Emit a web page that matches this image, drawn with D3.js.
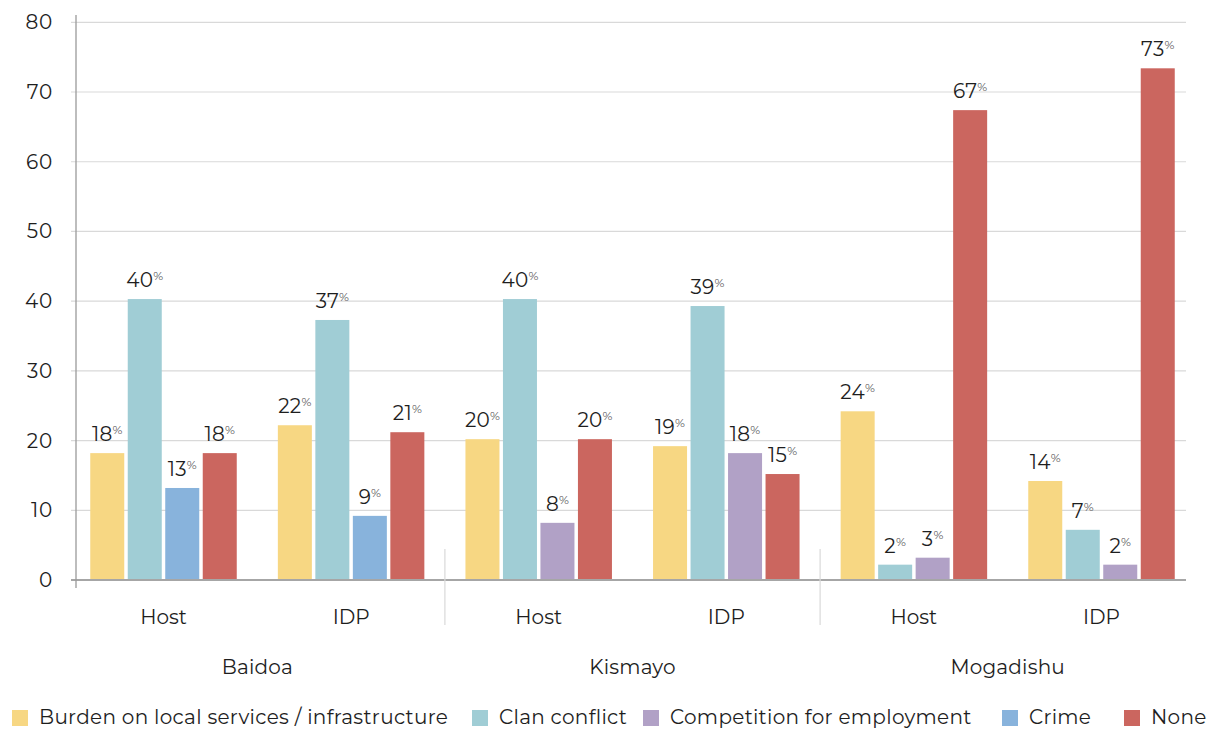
<!DOCTYPE html>
<html>
<head>
<meta charset="utf-8">
<script src="https://cdn.jsdelivr.net/npm/d3@7/dist/d3.min.js"></script>
<style>
  html, body { margin: 0; padding: 0; background: #fff; }
  svg { display: block; font-family: "Montserrat", "Inter", "Noto Sans", sans-serif; }
</style>
</head>
<body>
<svg id="chart" width="1214" height="729"></svg>
<script>
// ---- data ----
const cities = ["Baidoa", "Kismayo", "Mogadishu"];
const groups = ["Host", "IDP"];
const seriesNames = ["Burden on local services / infrastructure", "Clan conflict", "Competition for employment", "Crime", "None"];
const seriesColors = ["#F7D783", "#A0CDD5", "#B1A1C6", "#88B3DC", "#CB665F"];
// order of subgroups: Baidoa Host, Baidoa IDP, Kismayo Host, Kismayo IDP, Mogadishu Host, Mogadishu IDP
const burden      = [18.2, 22.2, 20.2, 19.2, 24.2, 14.2];
const clan        = [40.3, 37.3, 40.3, 39.3, 2.2, 7.2];
const competition = [null, null, 8.2, 18.2, 3.2, 2.2];
const crime       = [13.2, 9.2, null, null, null, null];
const none        = [18.2, 21.2, 20.2, 15.2, 67.4, 73.4];
const yTicks = [0, 10, 20, 30, 40, 50, 60, 70, 80];

// ---- build ----
const seriesValues = [burden, clan, competition, crime, none];
const subgroups = [];
cities.forEach(c => groups.forEach(g => subgroups.push({ city: c, group: g, key: c + "|" + g })));

const bars = [];
subgroups.forEach((sg, i) => {
  let slot = 0;
  seriesValues.forEach((vals, s) => {
    if (vals[i] != null) {
      bars.push({ key: sg.key, slot: slot, series: s, value: vals[i] });
      slot++;
    }
  });
});

const svg = d3.select("#chart");
const textColor = "#1e1e1e";

const x0 = d3.scaleBand().domain(subgroups.map(d => d.key)).range([69.7, 1195.3]).padding(0);
const x1 = d3.scaleBand().domain([0, 1, 2, 3]).range([-73.25, 73.25]).paddingInner(0.093).paddingOuter(0);
const y = d3.scaleLinear().domain([0, 80]).range([580, 22.3]);

const axisX = 76, plotRight = 1186;

// gridlines
svg.append("g").selectAll("line").data(yTicks.filter(t => t > 0)).join("line")
  .attr("x1", 71).attr("x2", plotRight)
  .attr("y1", d => y(d)).attr("y2", d => y(d))
  .attr("stroke", "#d9d9d9").attr("stroke-width", 1.2);

// y tick labels
svg.append("g").selectAll("text").data(yTicks).join("text")
  .attr("x", 53).attr("y", d => y(d))
  .attr("dy", "0.35em")
  .attr("text-anchor", "end")
  .attr("font-size", 20).attr("letter-spacing", 0.8).attr("fill", textColor)
  .text(d => d);

// bars
svg.append("g").selectAll("rect").data(bars).join("rect")
  .attr("x", d => x0(d.key) + x0.bandwidth() / 2 + x1(d.slot))
  .attr("width", x1.bandwidth())
  .attr("y", d => y(d.value))
  .attr("height", d => y(0) - y(d.value))
  .attr("fill", d => seriesColors[d.series]);

// value labels
const lab = svg.append("g").selectAll("text").data(bars).join("text")
  .attr("x", d => x0(d.key) + x0.bandwidth() / 2 + x1(d.slot) + x1.bandwidth() / 2)
  .attr("y", d => y(d.value) - 12)
  .attr("text-anchor", "middle")
  .attr("fill", textColor);
lab.append("tspan").attr("font-size", 20).attr("letter-spacing", 0.3).text(d => Math.round(d.value));
lab.append("tspan").attr("font-size", 12).attr("dy", -7).attr("fill", "#5a5a5a").text("%");

// baseline
svg.append("line").attr("x1", 71).attr("x2", plotRight).attr("y1", y(0)).attr("y2", y(0))
  .attr("stroke", "#a6a6a6").attr("stroke-width", 2);
// y axis line
svg.append("line").attr("x1", axisX).attr("x2", axisX).attr("y1", 15).attr("y2", 588)
  .attr("stroke", "#9a9a9a").attr("stroke-width", 1.3);

// city separators
const sepX = [1, 2].map(i => x0(subgroups[i * 2].key));
svg.append("g").selectAll("line").data(sepX).join("line")
  .attr("x1", d => d).attr("x2", d => d).attr("y1", 549).attr("y2", 625)
  .attr("stroke", "#d9d9d9").attr("stroke-width", 1.2);

// subgroup labels
svg.append("g").selectAll("text").data(subgroups).join("text")
  .attr("x", d => x0(d.key) + x0.bandwidth() / 2)
  .attr("y", 624)
  .attr("text-anchor", "middle").attr("font-size", 20).attr("fill", textColor)
  .text(d => d.group);

// city labels
svg.append("g").selectAll("text").data(cities).join("text")
  .attr("x", c => x0(c + "|Host") + x0.bandwidth())
  .attr("y", 674)
  .attr("text-anchor", "middle").attr("font-size", 20).attr("letter-spacing", 0.2).attr("fill", textColor)
  .text(c => c);

// legend
const legendX = [12, 472, 643, 1002, 1124];
const leg = svg.append("g").selectAll("g").data(seriesNames).join("g")
  .attr("transform", (d, i) => `translate(${legendX[i]},0)`);
leg.append("rect").attr("x", 0).attr("y", 710).attr("width", 16).attr("height", 16)
  .attr("fill", (d, i) => seriesColors[i]);
leg.append("text").attr("x", 27).attr("y", 724)
  .attr("font-size", 20).attr("letter-spacing", 0.3).attr("fill", textColor)
  .text(d => d);
</script>
</body>
</html>
